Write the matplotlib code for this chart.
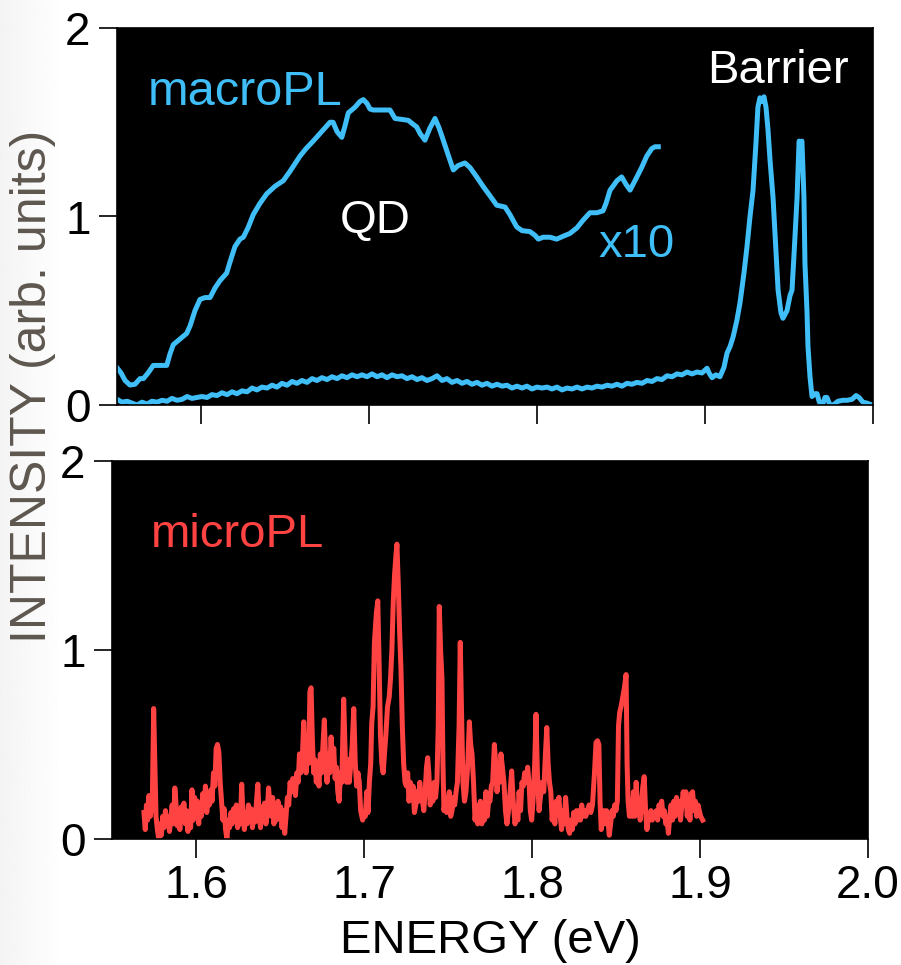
import numpy as np
import matplotlib
matplotlib.use("Agg")
import matplotlib.pyplot as plt

plt.rcParams['font.family'] = ['Liberation Sans', 'DejaVu Sans']

BLUE = '#40BEF7'
RED = '#FF4343'
GRAY = '#5E5750'

# macroPL, x10 trace (eV, arb. units)
x10_energy = [1.5502, 1.5524, 1.5548, 1.5577, 1.5607, 1.5637, 1.5657, 1.5685, 1.5716, 1.5756,
              1.5796, 1.5815, 1.5835, 1.5875, 1.5915, 1.5935, 1.5964, 1.5994, 1.6024, 1.6054,
              1.6083, 1.6113, 1.6153, 1.6173, 1.6202, 1.6232, 1.6252, 1.6280, 1.6311, 1.6351,
              1.6391, 1.6440, 1.6490, 1.6530, 1.6589, 1.6625, 1.6668, 1.6708, 1.6768, 1.6786,
              1.6810, 1.6838, 1.6857, 1.6877, 1.6917, 1.6946, 1.6966, 1.6988, 1.7006, 1.7026,
              1.7065, 1.7125, 1.7155, 1.7196, 1.7234, 1.7262, 1.7284, 1.7304, 1.7333, 1.7363,
              1.7393, 1.7417, 1.7442, 1.7470, 1.7502, 1.7530, 1.7571, 1.7601, 1.7641, 1.7679,
              1.7720, 1.7760, 1.7810, 1.7839, 1.7879, 1.7911, 1.7958, 1.7988, 1.8008, 1.8036,
              1.8077, 1.8117, 1.8155, 1.8196, 1.8238, 1.8274, 1.8315, 1.8357, 1.8393, 1.8411,
              1.8435, 1.8452, 1.8476, 1.8504, 1.8530, 1.8554, 1.8589, 1.8623, 1.8653, 1.8683,
              1.8702, 1.8722]
x10_intensity = [0.195, 0.17, 0.13, 0.106, 0.11, 0.14, 0.14, 0.17, 0.21, 0.21,
                 0.21, 0.27, 0.32, 0.35, 0.38, 0.42, 0.50, 0.56, 0.57, 0.57,
                 0.62, 0.66, 0.70, 0.76, 0.84, 0.88, 0.89, 0.94, 1.01, 1.07,
                 1.12, 1.16, 1.19, 1.24, 1.32, 1.36, 1.40, 1.44, 1.50, 1.50,
                 1.45, 1.42, 1.48, 1.55, 1.58, 1.61, 1.62, 1.60, 1.57, 1.565,
                 1.565, 1.565, 1.52, 1.515, 1.51, 1.49, 1.475, 1.44, 1.405, 1.47,
                 1.52, 1.47, 1.405, 1.33, 1.247, 1.27, 1.284, 1.26, 1.21, 1.16,
                 1.11, 1.06, 1.05, 1.01, 0.945, 0.925, 0.92, 0.90, 0.88, 0.89,
                 0.89, 0.88, 0.895, 0.91, 0.94, 0.98, 1.02, 1.02, 1.03, 1.07,
                 1.14, 1.16, 1.19, 1.21, 1.17, 1.14, 1.20, 1.26, 1.32, 1.36,
                 1.37, 1.37]

# macroPL, raw trace incl. barrier
macro_energy = [1.5500, 1.5530, 1.5560, 1.5589, 1.5619, 1.5649, 1.5679, 1.5708, 1.5738, 1.5768,
                1.5798, 1.5827, 1.5857, 1.5887, 1.5917, 1.5946, 1.5976, 1.6006, 1.6036, 1.6065,
                1.6095, 1.6125, 1.6155, 1.6185, 1.6214, 1.6244, 1.6274, 1.6304, 1.6333, 1.6363,
                1.6393, 1.6423, 1.6452, 1.6482, 1.6512, 1.6542, 1.6571, 1.6601, 1.6631, 1.6661,
                1.6690, 1.6720, 1.6750, 1.6780, 1.6810, 1.6839, 1.6869, 1.6899, 1.6929, 1.6958,
                1.6988, 1.7018, 1.7048, 1.7077, 1.7107, 1.7137, 1.7167, 1.7196, 1.7226, 1.7256,
                1.7286, 1.7315, 1.7345, 1.7375, 1.7405, 1.7435, 1.7464, 1.7494, 1.7524, 1.7554,
                1.7583, 1.7613, 1.7643, 1.7673, 1.7702, 1.7732, 1.7762, 1.7792, 1.7821, 1.7851,
                1.7881, 1.7911, 1.7940, 1.7970, 1.8000, 1.8030, 1.8060, 1.8089, 1.8119, 1.8149,
                1.8179, 1.8208, 1.8238, 1.8268, 1.8298, 1.8327, 1.8357, 1.8387, 1.8417, 1.8446,
                1.8476, 1.8506, 1.8536, 1.8565, 1.8595, 1.8625, 1.8655, 1.8685, 1.8714, 1.8744,
                1.8774, 1.8804, 1.8833, 1.8863, 1.8893, 1.8923, 1.8952, 1.8982, 1.9000, 1.9012,
                1.9024, 1.9042, 1.9065, 1.9089, 1.9113, 1.9131, 1.9149, 1.9167, 1.9190, 1.9208,
                1.9232, 1.9250, 1.9268, 1.9286, 1.9304, 1.9315, 1.9327, 1.9339, 1.9351, 1.9363,
                1.9375, 1.9387, 1.9405, 1.9417, 1.9435, 1.9452, 1.9464, 1.9476, 1.9488, 1.9506,
                1.9518, 1.9530, 1.9548, 1.9560, 1.9571, 1.9577, 1.9589, 1.9595, 1.9607, 1.9613,
                1.9625, 1.9637, 1.9655, 1.9667, 1.9679, 1.9696, 1.9714, 1.9726, 1.9744, 1.9762,
                1.9792, 1.9821, 1.9845, 1.9875, 1.9899, 1.9917, 1.9940, 1.9964, 1.9994]
macro_intensity = [0.030, 0.015, 0.020, 0.010, 0.000, 0.015, 0.005, 0.020, 0.015, 0.025,
                   0.020, 0.035, 0.025, 0.030, 0.045, 0.035, 0.040, 0.045, 0.040, 0.055,
                   0.050, 0.065, 0.055, 0.070, 0.060, 0.075, 0.070, 0.090, 0.080, 0.095,
                   0.090, 0.105, 0.095, 0.115, 0.105, 0.125, 0.115, 0.130, 0.120, 0.140,
                   0.130, 0.145, 0.135, 0.150, 0.140, 0.155, 0.145, 0.160, 0.150, 0.160,
                   0.150, 0.165, 0.150, 0.160, 0.145, 0.160, 0.150, 0.155, 0.140, 0.150,
                   0.135, 0.145, 0.130, 0.140, 0.155, 0.130, 0.140, 0.120, 0.130, 0.115,
                   0.125, 0.110, 0.120, 0.105, 0.115, 0.100, 0.110, 0.100, 0.105, 0.090,
                   0.100, 0.090, 0.100, 0.085, 0.095, 0.090, 0.095, 0.085, 0.095, 0.080,
                   0.090, 0.085, 0.095, 0.085, 0.095, 0.090, 0.100, 0.095, 0.105, 0.100,
                   0.110, 0.100, 0.115, 0.110, 0.120, 0.115, 0.130, 0.125, 0.140, 0.135,
                   0.155, 0.150, 0.165, 0.160, 0.175, 0.165, 0.175, 0.170, 0.185, 0.195,
                   0.170, 0.145, 0.160, 0.150, 0.200, 0.275, 0.310, 0.360, 0.450, 0.540,
                   0.700, 0.840, 1.000, 1.140, 1.400, 1.580, 1.630, 1.610, 1.635, 1.580,
                   1.460, 1.300, 1.100, 0.900, 0.610, 0.490, 0.460, 0.480, 0.500, 0.580,
                   0.610, 0.800, 1.100, 1.400, 1.390, 1.400, 1.100, 0.750, 0.500, 0.310,
                   0.150, 0.045, 0.060, 0.060, 0.020, -0.010, 0.040, 0.040, 0.000, 0.000,
                   0.020, 0.025, 0.025, 0.030, 0.050, 0.040, 0.015, 0.010, 0.000]

# microPL trace
micro_energy = [
    1.5690, 1.5698, 1.5705, 1.5712, 1.5720, 1.5728, 1.5740, 1.5748, 1.5755, 1.5762,
    1.5770, 1.5778, 1.5786, 1.5794, 1.5802, 1.5810, 1.5818, 1.5826, 1.5834, 1.5842,
    1.5850, 1.5858, 1.5866, 1.5874, 1.5880, 1.5888, 1.5896, 1.5904, 1.5912, 1.5920,
    1.5928, 1.5936, 1.5944, 1.5952, 1.5960, 1.5968, 1.5976, 1.5984, 1.5992, 1.6000,
    1.6008, 1.6016, 1.6024, 1.6032, 1.6040, 1.6048, 1.6056, 1.6064, 1.6072, 1.6080,
    1.6088, 1.6096, 1.6104, 1.6112, 1.6120, 1.6128, 1.6136, 1.6144, 1.6152, 1.6160,
    1.6168, 1.6176, 1.6184, 1.6192, 1.6200, 1.6208, 1.6216, 1.6224, 1.6232, 1.6240,
    1.6248, 1.6256, 1.6264, 1.6272, 1.6280, 1.6288, 1.6296, 1.6304, 1.6312, 1.6320,
    1.6328, 1.6336, 1.6344, 1.6352, 1.6360, 1.6368, 1.6376, 1.6384, 1.6392, 1.6400,
    1.6408, 1.6416, 1.6424, 1.6432, 1.6440, 1.6448, 1.6456, 1.6464, 1.6472, 1.6480,
    1.6488, 1.6496, 1.6504, 1.6512, 1.6520, 1.6528, 1.6536, 1.6544, 1.6552, 1.6560,
    1.6568, 1.6576, 1.6584, 1.6592, 1.6600, 1.6608, 1.6616, 1.6624, 1.6632, 1.6641,
    1.6648, 1.6655, 1.6662, 1.6670, 1.6678, 1.6685, 1.6692, 1.6700, 1.6708, 1.6716,
    1.6724, 1.6732, 1.6740, 1.6748, 1.6756, 1.6764, 1.6772, 1.6780, 1.6788, 1.6796,
    1.6804, 1.6812, 1.6820, 1.6828, 1.6836, 1.6844, 1.6852, 1.6860, 1.6868, 1.6879,
    1.6888, 1.6896, 1.6904, 1.6912, 1.6920, 1.6930, 1.6939, 1.6948, 1.6956, 1.6964,
    1.6972, 1.6980, 1.6992, 1.7000, 1.7008, 1.7016, 1.7024, 1.7032, 1.7040, 1.7046,
    1.7054, 1.7062, 1.7074, 1.7082, 1.7090, 1.7098, 1.7106, 1.7114, 1.7122, 1.7130,
    1.7140, 1.7150, 1.7158, 1.7166, 1.7174, 1.7182, 1.7190, 1.7196, 1.7204, 1.7212,
    1.7220, 1.7228, 1.7236, 1.7244, 1.7252, 1.7260, 1.7268, 1.7276, 1.7284, 1.7292,
    1.7300, 1.7308, 1.7316, 1.7324, 1.7332, 1.7340, 1.7348, 1.7356, 1.7364, 1.7372,
    1.7379, 1.7386, 1.7394, 1.7402, 1.7410, 1.7418, 1.7426, 1.7434, 1.7442, 1.7448,
    1.7456, 1.7464, 1.7470, 1.7476, 1.7484, 1.7492, 1.7500, 1.7508, 1.7516, 1.7524,
    1.7532, 1.7540, 1.7548, 1.7556, 1.7566, 1.7573, 1.7580, 1.7589, 1.7598, 1.7607,
    1.7618, 1.7627, 1.7635, 1.7643, 1.7652, 1.7661, 1.7669, 1.7677, 1.7685, 1.7693,
    1.7701, 1.7709, 1.7717, 1.7726, 1.7734, 1.7742, 1.7750, 1.7758, 1.7766, 1.7776,
    1.7784, 1.7792, 1.7800, 1.7808, 1.7815, 1.7824, 1.7833, 1.7842, 1.7851, 1.7860,
    1.7870, 1.7879, 1.7888, 1.7899, 1.7908, 1.7916, 1.7923, 1.7932, 1.7940, 1.7948,
    1.7956, 1.7965, 1.7974, 1.7982, 1.7990, 1.7998, 1.8006, 1.8016, 1.8024, 1.8032,
    1.8042, 1.8050, 1.8060, 1.8070, 1.8080, 1.8088, 1.8096, 1.8104, 1.8112, 1.8120,
    1.8128, 1.8136, 1.8144, 1.8152, 1.8160, 1.8168, 1.8176, 1.8184, 1.8192, 1.8200,
    1.8208, 1.8216, 1.8224, 1.8232, 1.8240, 1.8248, 1.8256, 1.8264, 1.8272, 1.8280,
    1.8288, 1.8296, 1.8304, 1.8312, 1.8320, 1.8330, 1.8340, 1.8350, 1.8360, 1.8372,
    1.8381, 1.8390, 1.8398, 1.8405, 1.8412, 1.8420, 1.8428, 1.8436, 1.8444, 1.8452,
    1.8460, 1.8468, 1.8476, 1.8484, 1.8492, 1.8500, 1.8508, 1.8515, 1.8522, 1.8530,
    1.8540, 1.8550, 1.8560, 1.8566, 1.8572, 1.8580, 1.8588, 1.8596, 1.8604, 1.8612,
    1.8620, 1.8628, 1.8636, 1.8644, 1.8652, 1.8660, 1.8668, 1.8676, 1.8684, 1.8692,
    1.8700, 1.8708, 1.8716, 1.8724, 1.8732, 1.8740, 1.8748, 1.8756, 1.8764, 1.8772,
    1.8780, 1.8788, 1.8796, 1.8804, 1.8812, 1.8820, 1.8828, 1.8836, 1.8844, 1.8852,
    1.8860, 1.8868, 1.8876, 1.8884, 1.8892, 1.8900, 1.8908, 1.8916, 1.8924, 1.8932,
    1.8940, 1.8948, 1.8956, 1.8964, 1.8972, 1.8980, 1.8988, 1.8996, 1.9004, 1.9016]
micro_intensity = [
    0.14, 0.05, 0.18, 0.10, 0.23, 0.12, 0.20, 0.69, 0.40, 0.12,
    0.05, 0.00, 0.08, 0.02, 0.12, 0.06, 0.15, 0.08, 0.12, 0.04,
    0.10, 0.18, 0.08, 0.27, 0.20, 0.07, 0.14, 0.05, 0.17, 0.10,
    0.19, 0.08, 0.15, 0.04, 0.13, 0.06, 0.26, 0.10, 0.22, 0.14,
    0.20, 0.08, 0.18, 0.12, 0.24, 0.15, 0.28, 0.14, 0.22, 0.18,
    0.26, 0.20, 0.35, 0.28, 0.48, 0.50, 0.46, 0.30, 0.20, 0.10,
    0.16, 0.05, 0.00, 0.10, 0.06, 0.14, 0.08, 0.16, 0.10, 0.18,
    0.06, 0.14, 0.08, 0.29, 0.12, 0.05, 0.14, 0.08, 0.18, 0.10,
    0.16, 0.06, 0.14, 0.09, 0.20, 0.29, 0.12, 0.06, 0.17, 0.10,
    0.19, 0.08, 0.14, 0.27, 0.18, 0.12, 0.22, 0.08, 0.15, 0.10,
    0.20, 0.12, 0.17, 0.06, 0.15, 0.03, 0.12, 0.22, 0.18, 0.30,
    0.25, 0.32, 0.28, 0.23, 0.35, 0.30, 0.45, 0.35, 0.40, 0.62,
    0.45, 0.35, 0.48, 0.40, 0.78, 0.80, 0.55, 0.35, 0.42, 0.30,
    0.38, 0.28, 0.45, 0.35, 0.50, 0.63, 0.40, 0.30, 0.45, 0.35,
    0.54, 0.40, 0.48, 0.32, 0.38, 0.25, 0.20, 0.35, 0.30, 0.74,
    0.45, 0.30, 0.42, 0.30, 0.38, 0.50, 0.69, 0.40, 0.28, 0.35,
    0.30, 0.15, 0.10, 0.14, 0.12, 0.25, 0.14, 0.30, 0.40, 0.61,
    0.70, 1.04, 1.20, 1.26, 0.93, 0.55, 0.40, 0.35, 0.45, 0.55,
    0.70, 0.75, 0.85, 1.00, 1.25, 1.40, 1.50, 1.56, 1.35, 1.10,
    0.90, 0.60, 0.40, 0.30, 0.28, 0.35, 0.20, 0.30, 0.22, 0.28,
    0.14, 0.18, 0.25, 0.20, 0.30, 0.22, 0.20, 0.15, 0.25, 0.38,
    0.43, 0.35, 0.18, 0.25, 0.20, 0.30, 0.22, 0.30, 0.60, 1.23,
    1.00, 0.85, 0.40, 0.15, 0.22, 0.14, 0.20, 0.25, 0.12, 0.15,
    0.22, 0.18, 0.25, 0.30, 0.60, 1.04, 0.70, 0.30, 0.20, 0.25,
    0.40, 0.62, 0.50, 0.45, 0.30, 0.10, 0.18, 0.08, 0.12, 0.20,
    0.08, 0.15, 0.10, 0.25, 0.12, 0.20, 0.20, 0.28, 0.30, 0.50,
    0.40, 0.25, 0.35, 0.30, 0.45, 0.38, 0.30, 0.15, 0.08, 0.15,
    0.25, 0.36, 0.20, 0.08, 0.15, 0.10, 0.25, 0.15, 0.30, 0.28,
    0.35, 0.30, 0.38, 0.30, 0.15, 0.10, 0.20, 0.40, 0.66, 0.35,
    0.15, 0.22, 0.30, 0.25, 0.45, 0.59, 0.40, 0.30, 0.25, 0.10,
    0.18, 0.08, 0.20, 0.15, 0.22, 0.12, 0.05, 0.15, 0.08, 0.22,
    0.12, 0.05, 0.03, 0.10, 0.05, 0.14, 0.08, 0.15, 0.10, 0.15,
    0.10, 0.18, 0.12, 0.15, 0.12, 0.15, 0.18, 0.14, 0.18, 0.35,
    0.51, 0.52, 0.50, 0.20, 0.05, 0.10, 0.15, 0.08, 0.15, 0.10,
    0.02, 0.08, 0.15, 0.12, 0.18, 0.15, 0.20, 0.60, 0.67, 0.70,
    0.75, 0.80, 0.87, 0.40, 0.20, 0.12, 0.18, 0.12, 0.25, 0.12,
    0.30, 0.15, 0.18, 0.10, 0.20, 0.28, 0.33, 0.15, 0.05, 0.10,
    0.12, 0.15, 0.10, 0.14, 0.12, 0.15, 0.10, 0.18, 0.15, 0.20,
    0.12, 0.15, 0.08, 0.10, 0.03, 0.12, 0.18, 0.10, 0.20, 0.12,
    0.22, 0.15, 0.20, 0.10, 0.18, 0.25, 0.18, 0.25, 0.12, 0.20,
    0.10, 0.24, 0.25, 0.15, 0.20, 0.12, 0.18, 0.15, 0.12, 0.10]

x_ticks = [1.6, 1.7, 1.8, 1.9, 2.0]
y_ticks = [0, 1, 2]

fig = plt.figure(figsize=(9.01, 9.65), dpi=100)

# faint grey strip on the left edge
bg = fig.add_axes([0, 0, 0.07, 1], zorder=-10)
grad = np.linspace(0.955, 1.0, 50).reshape(1, -1)
bg.imshow(grad, cmap='gray', vmin=0, vmax=1, aspect='auto', extent=[0, 1, 0, 1])
bg.axis('off')

ax1 = fig.add_axes([117 / 901, 1 - 405 / 965, 756 / 901, 377 / 965])
ax2 = fig.add_axes([112 / 901, 1 - 839 / 965, 756 / 901, 378 / 965])

for ax in (ax1, ax2):
    ax.set_facecolor('black')
    ax.set_xlim(1.55, 2.0)
    ax.set_ylim(0, 2)
    ax.set_xticks(x_ticks)
    ax.set_yticks(y_ticks)
    ax.tick_params(axis='y', direction='out', length=13, width=1.2, labelsize=33, pad=6)
    ax.tick_params(axis='x', direction='out', length=14, width=1.2, labelsize=33, pad=4)
    for s in ax.spines.values():
        s.set_color('black')
        s.set_linewidth(1.2)

ax1.tick_params(axis='x', labelbottom=False)
ax2.set_xticklabels(['1.6', '1.7', '1.8', '1.9', '2.0'])

ax1.plot(macro_energy, macro_intensity, color=BLUE, lw=3.6, solid_joinstyle='round')
ax1.plot(x10_energy, x10_intensity, color=BLUE, lw=3.6, solid_joinstyle='round')
ax2.plot(micro_energy, micro_intensity, color=RED, lw=3.6, solid_joinstyle='round')

ax1.text(1.5685, 1.59, 'macroPL', color=BLUE, fontsize=35, va='baseline')
ax1.text(1.6827, 0.912, 'QD', color='white', fontsize=34, va='baseline')
ax1.text(1.8363, 0.785, 'x10', color=BLUE, fontsize=34, va='baseline')
ax1.text(1.9012, 1.708, 'Barrier', color='white', fontsize=34, va='baseline')
ax2.text(1.5732, 1.543, 'microPL', color=RED, fontsize=34, va='baseline')

ax2.set_xlabel('ENERGY (eV)', fontsize=34, labelpad=8)
fig.text(33 / 901, 1 - 386 / 965, 'INTENSITY (arb. units)', rotation=90,
         fontsize=36, color=GRAY, ha='center', va='center')

fig.savefig('out.png', dpi=100)
